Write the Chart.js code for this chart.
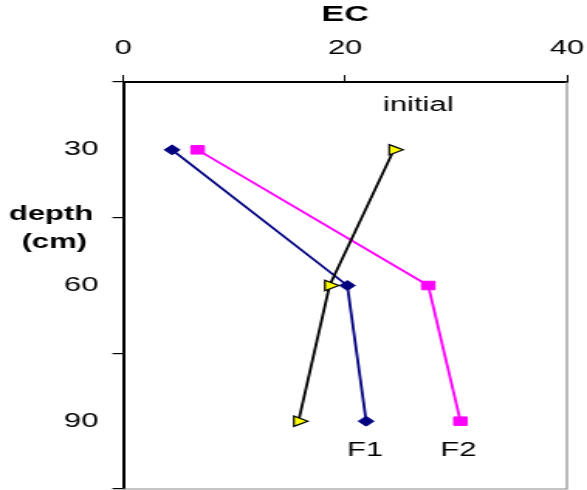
<!DOCTYPE html>
<html>
<head>
<meta charset="utf-8">
<script src="https://cdn.jsdelivr.net/npm/chart.js@4/dist/chart.umd.min.js"></script>
<style>
  html, body { margin: 0; padding: 0; background: #fff; }
</style>
</head>
<body>
<!-- the source picture is stretched sideways, so the canvas is drawn narrow and widened by css -->
<canvas id="ecChart" width="379" height="490" style="display:block;width:587px;height:490px;"></canvas>
<script>
const depths = [30, 60, 90];
const depthTicks = [30, 60, 90];
const ecTicks = [0, 20, 40];
const seriesNames = ['initial', 'F1', 'F2'];
const initialEC = [24.4, 18.6, 15.8];
const f1EC = [4.4, 20.2, 21.9];
const f2EC = [6.7, 27.5, 30.4];

const FONT = 'Arial, "Liberation Sans", sans-serif';

const toPoints = (values) => values.map((v, i) => ({ x: v, y: depths[i] }));

// no extra room for the end labels, the plot area is set by hand
const noScalePadding = (scale) => {
    scale.paddingLeft = 0;
    scale.paddingRight = 0;
    scale.paddingTop = 0;
    scale.paddingBottom = 0;
};

const textPlugin = {
    id: 'textPlugin',
    afterDraw(chart) {
        const ctx = chart.ctx;
        const x = chart.scales.x;
        const y = chart.scales.y;
        const area = chart.chartArea;
        ctx.save();

        // grey right / bottom edge of the plot area
        ctx.strokeStyle = '#8c8c8c';
        ctx.lineWidth = 1.2;
        ctx.beginPath();
        ctx.moveTo(area.right, area.top);
        ctx.lineTo(area.right, area.bottom);
        ctx.lineTo(area.left, area.bottom);
        ctx.stroke();

        ctx.fillStyle = '#000';
        ctx.textAlign = 'center';
        ctx.textBaseline = 'alphabetic';

        // y title, written flat
        ctx.font = 'bold 20px ' + FONT;
        ctx.fillText('depth', 33, 220);
        ctx.fillText('(cm)', 35, 248);

        // series names beside their lines
        ctx.font = '20px ' + FONT;
        ctx.fillText(seriesNames[0], x.getPixelForValue(26.6), y.getPixelForValue(21.4));
        ctx.fillText(seriesNames[1], x.getPixelForValue(21.8), y.getPixelForValue(97.7));
        ctx.fillText(seriesNames[2], x.getPixelForValue(30.2), y.getPixelForValue(97.7));
        ctx.restore();
    }
};

new Chart(document.getElementById('ecChart'), {
    type: 'scatter',
    data: {
        datasets: [
            {
                label: seriesNames[0],
                data: toPoints(initialEC),
                showLine: true,
                borderColor: '#000000',
                borderWidth: 1.8,
                pointStyle: 'triangle',
                rotation: 90,
                pointRadius: 6,
                pointBackgroundColor: '#ffff00',
                pointBorderColor: '#000000',
                pointBorderWidth: 1.2,
            },
            {
                label: seriesNames[1],
                data: toPoints(f1EC),
                showLine: true,
                borderColor: '#000080',
                borderWidth: 1.8,
                pointStyle: 'rectRot',
                pointRadius: 5,
                pointBackgroundColor: '#000080',
                pointBorderColor: '#000080',
                pointBorderWidth: 1,
            },
            {
                label: seriesNames[2],
                data: toPoints(f2EC),
                showLine: true,
                borderColor: '#ff00ff',
                borderWidth: 1.8,
                pointStyle: 'rect',
                pointRadius: 6,
                pointBackgroundColor: '#ff00ff',
                pointBorderColor: '#ff00ff',
                pointBorderWidth: 1,
            },
        ],
    },
    options: {
        responsive: false,
        animation: false,
        layout: {
            autoPadding: false,
            padding: { top: 0, left: 0, right: 13, bottom: 1 },
        },
        plugins: {
            legend: { display: false },
            tooltip: { enabled: false },
        },
        scales: {
            x: {
                type: 'linear',
                position: 'top',
                min: 0,
                max: 40,
                afterFit: (scale) => { scale.height = 82; noScalePadding(scale); },
                afterBuildTicks: (scale) => { scale.ticks = ecTicks.map(v => ({ value: v })); },
                ticks: {
                    color: '#000',
                    padding: 15,
                    maxRotation: 0,
                    font: { family: FONT, size: 20 },
                },
                grid: {
                    drawOnChartArea: false,
                    tickLength: 7,
                    color: '#000',
                    lineWidth: 1,
                },
                border: { color: '#000', width: 2 },
                title: {
                    display: true,
                    text: 'EC',
                    color: '#000',
                    padding: { top: 2, bottom: 0 },
                    font: { family: FONT, size: 22, weight: 'bold' },
                },
            },
            y: {
                type: 'linear',
                reverse: true,
                min: 15,
                max: 105,
                afterFit: (scale) => { scale.width = 79.6; noScalePadding(scale); },
                ticks: {
                    stepSize: 15,
                    autoSkip: false,
                    color: '#000',
                    padding: 9,
                    font: { family: FONT, size: 20 },
                    callback: (v) => depthTicks.includes(v) ? v : '',
                },
                grid: {
                    drawOnChartArea: false,
                    tickLength: 7,
                    lineWidth: 1.2,
                    color: (ctx) => (ctx.tick && depthTicks.includes(ctx.tick.value)) ? 'rgba(0,0,0,0)' : '#000',
                },
                border: { color: '#000', width: 2 },
            },
        },
    },
    plugins: [textPlugin],
});
</script>
</body>
</html>
